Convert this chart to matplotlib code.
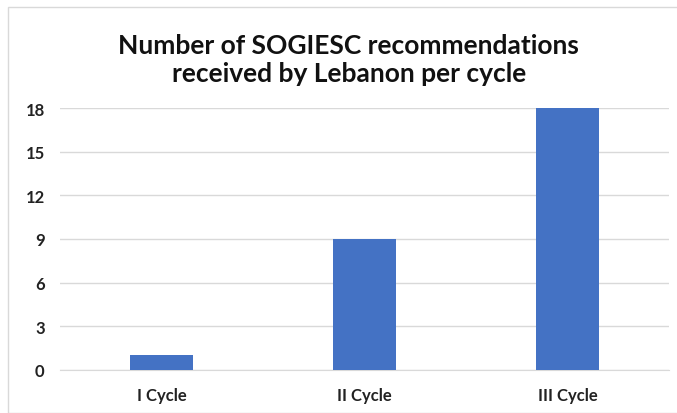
import matplotlib.pyplot as plt
from matplotlib.patches import Rectangle

categories = ["I Cycle", "II Cycle", "III Cycle"]
values = [1, 9, 18]
yticks = [0, 3, 6, 9, 12, 15, 18]

plt.rcParams['font.family'] = ['Lato', 'DejaVu Sans']

fig = plt.figure(figsize=(6.77, 4.14), dpi=100)
ax = fig.add_axes([0.0886, 0.1039, 0.8994, 0.6328])

x = range(len(categories))
ax.bar(x, values, width=0.31, color="#4472c4", zorder=3)

ax.set_xlim(-0.5, len(categories) - 0.5)
ax.set_ylim(0, 18)
ax.set_yticks(yticks)
ax.set_xticks(list(x))
ax.set_xticklabels(categories, fontsize=12, fontweight="bold", color="#222222")
ax.set_yticklabels([str(t) for t in yticks], fontsize=12, fontweight="bold", color="#222222")
ax.tick_params(axis="both", length=0)
ax.tick_params(axis="x", pad=12)
ax.tick_params(axis="y", pad=11)
ax.grid(axis="y", color="#d9d9d9", linewidth=1.0, zorder=0)
ax.set_axisbelow(True)
for s in ["top", "right", "left"]:
    ax.spines[s].set_visible(False)
ax.spines["bottom"].set_color("#d9d9d9")
ax.spines["bottom"].set_zorder(1)

fig.text(0.515, 0.855, "Number of SOGIESC recommendations\nreceived by Lebanon per cycle",
         ha="center", va="center", fontsize=19, fontweight="bold",
         color="#111111", linespacing=1.2)

# outer chart frame
fig.patches.append(Rectangle((8 / 677, 0), 1, 1 - 8 / 414, transform=fig.transFigure,
                             fill=False, edgecolor="#d9d9d9", linewidth=1.0))

fig.savefig("out.png", dpi=100)
